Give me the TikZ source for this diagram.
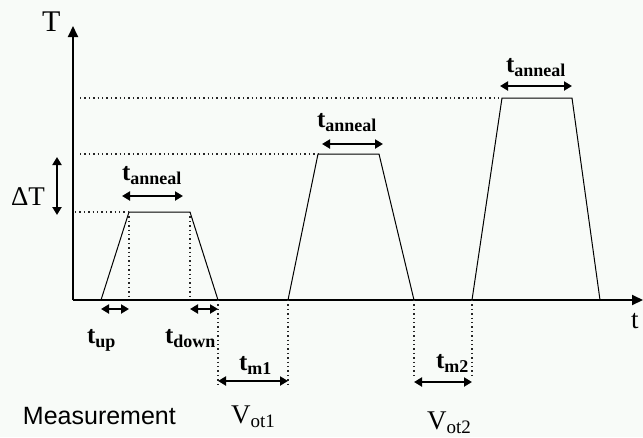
\documentclass[tikz,border=0pt]{standalone}
\usepackage{fontspec}
\setmainfont{Liberation Serif}
\newfontfamily\labsans{Liberation Sans}
\usetikzlibrary{arrows.meta}
\newcommand\sublab[2]{{\fontsize{25}{25}\selectfont\bfseries #1}\raisebox{-4pt}{\fontsize{18}{18}\selectfont\bfseries #2}}
\newcommand\vlab[2]{{\fontsize{27}{27}\selectfont #1}\raisebox{-4pt}{\fontsize{19}{19}\selectfont #2}}
\tikzset{
  axis/.style={line width=2pt,-{Triangle[length=11pt,width=10pt]}},
  curve/.style={line width=1pt,line join=miter},
  guide/.style={line width=1.3pt,dash pattern=on 1.4pt off 3pt,black!85},
  span/.style={line width=2pt,{Triangle[length=8pt,width=9pt]}-{Triangle[length=8pt,width=9pt]}},
  lab/.style={anchor=base west,inner sep=0pt,outer sep=0pt}
}
\begin{document}
\begin{tikzpicture}[x=1pt,y=-1pt]
\fill[fill={rgb,255:red,248;green,251;blue,248}] (0,0) rectangle (643,437);
\useasboundingbox (0,0) rectangle (643,437);
% axes
\coordinate (O) at (73,300);
\coordinate (Ytop) at (73,26);
\coordinate (Xend) at (643,300);
\draw[axis] (O) -- (Ytop);
\draw[axis] (O) -- (Xend);
% trapezoid corners
\coordinate (a1) at (101,300); \coordinate (b1) at (129,212);
\coordinate (c1) at (190,212); \coordinate (d1) at (218,300);
\coordinate (a2) at (288,300); \coordinate (b2) at (318,154);
\coordinate (c2) at (379,154); \coordinate (d2) at (414,300);
\coordinate (a3) at (472,300); \coordinate (b3) at (502,98);
\coordinate (c3) at (572,98);  \coordinate (d3) at (600,300);
\draw[curve] (a1) -- (b1) -- (c1) -- (d1);
\draw[curve] (a2) -- (b2) -- (c2) -- (d2);
\draw[curve] (a3) -- (b3) -- (c3) -- (d3);
% dotted guides
\coordinate (h1) at (75,212); \coordinate (h2) at (80,154); \coordinate (h3) at (80,98);
\draw[guide] (h1) -- (b1);
\draw[guide] (h2) -- (b2);
\draw[guide] (h3) -- (b3);
\coordinate (v1) at (129,300); \coordinate (v2) at (190,300);
\draw[guide] (b1) -- (v1);
\draw[guide] (c1) -- (v2);
\coordinate (m1a) at (218,387); \coordinate (m1b) at (288,387);
\coordinate (m2a) at (414,375); \coordinate (m2b) at (472,375);
\draw[guide] (d1) -- (m1a);
\draw[guide] (a2) -- (m1b);
\draw[guide] (d2) -- (m2a);
\draw[guide] (a3) -- (m2b);
% span arrows
\coordinate (ta1l) at (122,196); \coordinate (ta1r) at (183,196);
\coordinate (ta2l) at (322,144); \coordinate (ta2r) at (383,144);
\coordinate (ta3l) at (500,86);  \coordinate (ta3r) at (572,86);
\coordinate (dTt) at (57,157);   \coordinate (dTb) at (57,215);
\coordinate (upl) at (101,309);  \coordinate (upr) at (129,309);
\coordinate (dnl) at (190,309);  \coordinate (dnr) at (218,309);
\coordinate (tm1l) at (218,381); \coordinate (tm1r) at (288,381);
\coordinate (tm2l) at (414,382); \coordinate (tm2r) at (472,382);
\draw[span] (ta1l) -- (ta1r);
\draw[span] (ta2l) -- (ta2r);
\draw[span] (ta3l) -- (ta3r);
\draw[span] (dTt) -- (dTb);
\draw[span] (upl) -- (upr);
\draw[span] (dnl) -- (dnr);
\draw[span] (tm1l) -- (tm1r);
\draw[span] (tm2l) -- (tm2r);
% labels
\node[lab] (Tlab) at (42,31) {\fontsize{30}{30}\selectfont T};
\node[lab] (tlab) at (631,328) {\fontsize{27}{27}\selectfont t};
\node[lab] (dTlab) at (11,205) {\fontsize{27}{27}\selectfont ΔT};
\node[lab] (an1) at (122,180) {\sublab{t}{anneal}};
\node[lab] (an2) at (317,127) {\sublab{t}{anneal}};
\node[lab] (an3) at (506,72) {\sublab{t}{anneal}};
\node[lab] (tup) at (87,343) {\sublab{t}{up}};
\node[lab] (tdown) at (165,343) {\sublab{t}{down}};
\node[lab] (tm1) at (239,370) {\sublab{t}{m1}};
\node[lab] (tm2) at (436,368) {\sublab{t}{m2}};
\node[lab] (meas) at (23,424) {\fontsize{25}{25}\selectfont\labsans Measurement};
\node[lab] (vot1) at (231,423) {\vlab{V}{ot1}};
\node[lab] (vot2) at (427,429) {\vlab{V}{ot2}};
\end{tikzpicture}
\end{document}
